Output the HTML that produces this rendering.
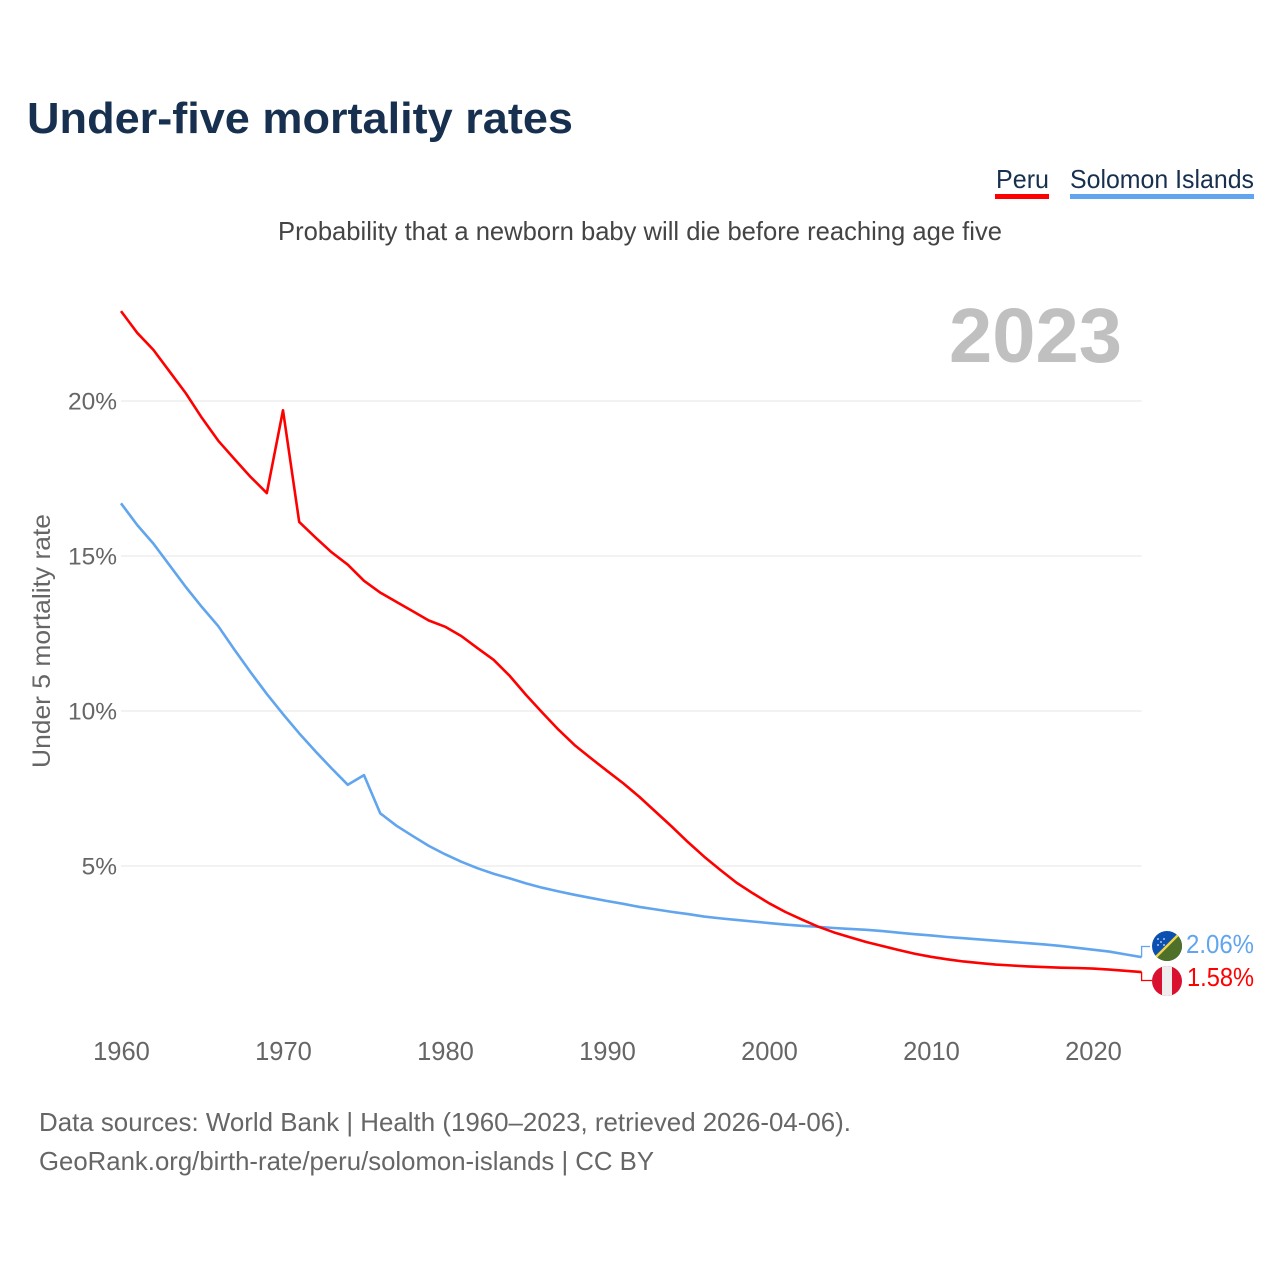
<!DOCTYPE html>
<html lang="en">
<head>
<meta charset="utf-8">
<title>Under-five mortality rates</title>
<style>
html,body{margin:0;padding:0;background:#fff;}
svg{display:block;}
text{font-family:"Liberation Sans",sans-serif;}
</style>
</head>
<body>
<svg id="chart" xmlns="http://www.w3.org/2000/svg" width="1280" height="1280" viewBox="0 0 1280 1280">
  <defs>
    <clipPath id="clip-sb"><circle cx="1167" cy="946" r="15"/></clipPath>
    <clipPath id="clip-pe"><circle cx="1167" cy="981" r="15"/></clipPath>
  </defs>
  <rect x="0" y="0" width="1280" height="1280" fill="#ffffff"/>
  <text x="27" y="133" font-size="44" font-weight="700" fill="#18304f" textLength="546" lengthAdjust="spacingAndGlyphs">Under-five mortality rates</text>

  <text x="996" y="188" font-size="26" fill="#18304f" textLength="53" lengthAdjust="spacingAndGlyphs">Peru</text>
  <rect x="995" y="194" width="54" height="5" fill="#ff0000"/>
  <text x="1070" y="188" font-size="26" fill="#18304f" textLength="184" lengthAdjust="spacingAndGlyphs">Solomon Islands</text>
  <rect x="1070" y="194" width="184" height="5" fill="#60a5ee"/>

  <text x="278" y="240" font-size="26" fill="#444444" textLength="724" lengthAdjust="spacingAndGlyphs">Probability that a newborn baby will die before reaching age five</text>
  <text x="949" y="362" font-size="77" font-weight="700" fill="#c0c0c0" textLength="173" lengthAdjust="spacingAndGlyphs">2023</text>

  <g id="grid"></g>
  <g id="y-ticks"></g>
  <g id="x-ticks"></g>
  <text transform="translate(50,768) rotate(-90)" x="0" y="0" font-size="25" fill="#666666" textLength="254" lengthAdjust="spacingAndGlyphs">Under 5 mortality rate</text>

  <g id="series"></g>

  <g clip-path="url(#clip-sb)">
    <rect x="1152" y="931" width="30" height="30" fill="#0b50b0"/>
    <polygon points="1182,931 1182,961 1152,961" fill="#4f7029"/>
    <line x1="1151" y1="962" x2="1183" y2="930" stroke="#f2d445" stroke-width="2.4"/>
    <circle cx="1158" cy="939" r="0.9" fill="#dfe8f5"/><circle cx="1164" cy="939" r="0.9" fill="#dfe8f5"/><circle cx="1161" cy="942" r="0.9" fill="#dfe8f5"/><circle cx="1158" cy="945" r="0.9" fill="#dfe8f5"/><circle cx="1164" cy="945" r="0.9" fill="#dfe8f5"/>
  </g>
  <g clip-path="url(#clip-pe)">
    <rect x="1152" y="966" width="30" height="30" fill="#d91030"/>
    <rect x="1162" y="966" width="10" height="30" fill="#eeeeee"/>
  </g>
  <text x="1254" y="953" font-size="26" fill="#60a5ee" text-anchor="end" textLength="68" lengthAdjust="spacingAndGlyphs">2.06%</text>
  <text x="1254" y="986" font-size="26" fill="#ff0000" text-anchor="end" textLength="67" lengthAdjust="spacingAndGlyphs">1.58%</text>

  <text x="39" y="1131" font-size="26" fill="#666666" textLength="812" lengthAdjust="spacingAndGlyphs">Data sources: World Bank | Health (1960–2023, retrieved 2026-04-06).</text>
  <text x="39" y="1170" font-size="26" fill="#666666" textLength="615" lengthAdjust="spacingAndGlyphs">GeoRank.org/birth-rate/peru/solomon-islands | CC BY</text>
</svg>
<script>
const startYear = 1960;
const xTickYears = [1960, 1970, 1980, 1990, 2000, 2010, 2020];
const yTickValues = [5, 10, 15, 20];
const peruValues = [22.9, 22.2, 21.65, 20.95, 20.25, 19.45, 18.72, 18.13, 17.55, 17.03, 19.7, 16.1, 15.6, 15.12, 14.72, 14.2, 13.82, 13.52, 13.22, 12.92, 12.72, 12.42, 12.03, 11.65, 11.13, 10.52, 9.95, 9.4, 8.9, 8.48, 8.07, 7.67, 7.23, 6.75, 6.27, 5.77, 5.3, 4.87, 4.46, 4.12, 3.8, 3.52, 3.28, 3.05, 2.86, 2.7, 2.55, 2.42, 2.29, 2.17, 2.07, 1.99, 1.92, 1.87, 1.82, 1.79, 1.76, 1.74, 1.72, 1.71, 1.69, 1.66, 1.62, 1.58];
const solomonValues = [16.7, 16.0, 15.4, 14.7, 14.0, 13.35, 12.74, 11.98, 11.25, 10.55, 9.9, 9.28, 8.7, 8.15, 7.62, 7.93, 6.7, 6.3, 5.97, 5.65, 5.38, 5.14, 4.93, 4.75, 4.6, 4.44, 4.3, 4.18, 4.07, 3.97, 3.87, 3.78, 3.68, 3.6, 3.52, 3.45, 3.37, 3.31, 3.26, 3.21, 3.16, 3.11, 3.07, 3.04, 3.0, 2.97, 2.94, 2.9, 2.85, 2.8, 2.76, 2.71, 2.67, 2.63, 2.59, 2.55, 2.51, 2.47, 2.42, 2.36, 2.3, 2.24, 2.15, 2.06];

const SVG_NS = 'http://www.w3.org/2000/svg';
function xScale(year) { return 121 + (year - 1960) * 16.2; }
function yScale(value) { return 1021 - value * 31; }
function make(tag, attrs, parent) {
  const el = document.createElementNS(SVG_NS, tag);
  for (const k in attrs) el.setAttribute(k, attrs[k]);
  parent.appendChild(el);
  return el;
}
const gridG = document.getElementById('grid');
const yG = document.getElementById('y-ticks');
const xG = document.getElementById('x-ticks');
const seriesG = document.getElementById('series');
const lastYear = startYear + peruValues.length - 1;

yTickValues.forEach(function (v) {
  const line = make('line', {x1: xScale(1960), x2: xScale(lastYear), y1: yScale(v), y2: yScale(v), stroke: '#eeeeee', 'stroke-width': 1.5}, gridG);
  
  
  const label = make('text', {x: 117, y: yScale(v) + 8.5, 'font-size': 24.5, fill: '#666666', 'text-anchor': 'end'}, yG);
  label.textContent = v + '%';
  
  
});

xTickYears.forEach(function (y) {
  const label = make('text', {x: xScale(y) + 0.5, y: 1060, 'font-size': 25.5, fill: '#666666', 'text-anchor': 'middle'}, xG);
  label.textContent = String(y);
  
  
});

function pathFor(values) {
  return values.map(function (v, i) {
    return (i ? 'L' : 'M') + xScale(startYear + i).toFixed(2) + ' ' + yScale(v).toFixed(2);
  }).join(' ');
}
function lastPoint(values) {
  return [xScale(lastYear), yScale(values[values.length - 1])];
}

const solomonLine = make('path', {d: pathFor(solomonValues), fill: 'none', stroke: '#60a5ee', 'stroke-width': 2.6, 'stroke-linejoin': 'round'}, seriesG);


const peruLine = make('path', {d: pathFor(peruValues), fill: 'none', stroke: '#ff0000', 'stroke-width': 2.6, 'stroke-linejoin': 'round'}, seriesG);



const sEnd = lastPoint(solomonValues);
const solomonLink = make('path', {d: 'M' + sEnd[0] + ' ' + sEnd[1] + ' V946.5 H1150', fill: 'none', stroke: '#60a5ee', 'stroke-width': 1.3}, seriesG);


const pEnd = lastPoint(peruValues);
const peruLink = make('path', {d: 'M' + pEnd[0] + ' ' + pEnd[1] + ' V980.5 H1152', fill: 'none', stroke: '#ff0000', 'stroke-width': 1.3}, seriesG);


</script>
</body>
</html>
